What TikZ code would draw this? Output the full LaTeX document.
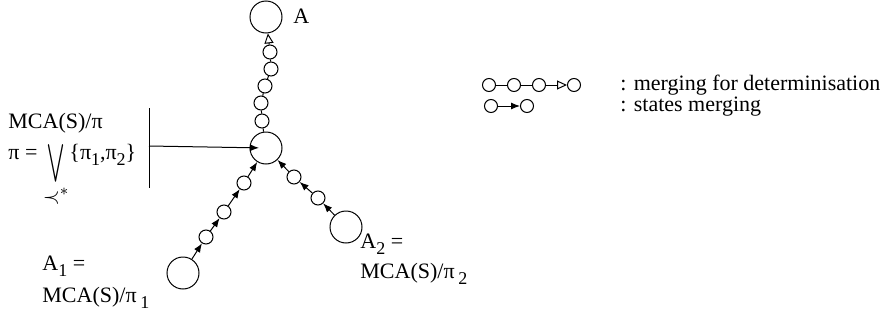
\documentclass[tikz,border=0pt]{standalone}
\usepackage{fontspec}
\usepackage{graphicx}
\setmainfont{Liberation Serif}
\usetikzlibrary{arrows.meta,positioning}
\newcommand\lsub[1]{\raisebox{-.6ex}{\small #1}}
\newcommand\joinop{\mathop{\raisebox{-6pt}{\resizebox{8.5pt}{14.5pt}{$\displaystyle\bigvee$}}}\limits_{\textstyle\prec^{*}}}
\tikzset{
  bigst/.style={circle,draw,line width=.5pt,minimum size=16pt,inner sep=0pt},
  smallst/.style={bigst,minimum size=7pt},
  legst/.style={bigst,minimum size=6.5pt},
  link/.style={line width=.5pt},
  merge/.style={link,-{Latex[length=4.5pt,width=3.5pt]}},
  detmerge/.style={link,-{Triangle[open,length=5pt,width=4.5pt]}},
  lab/.style={anchor=base west,inner sep=0pt,font=\fontsize{11}{13}\selectfont}
}
\begin{document}
\begin{tikzpicture}[x=.5pt,y=-.5pt]
  \useasboundingbox (0,0) rectangle (890,322);
  % automata
  \node[bigst] (a) at (266,17) {};
  \node[bigst] (c) at (266,148) {};
  \node[bigst] (a1) at (183,273) {};
  \node[bigst] (a2) at (346,227) {};
  % chain for determinisation
  \foreach \n/\x/\y in {1/270/52,2/271/69,3/265/86,4/261/103,5/262/121}
    \node[smallst] (t\n) at (\x,\y) {};
  \draw[link] (c) -- (t5) -- (t4) -- (t3) -- (t2) -- (t1);
  \draw[detmerge] (t1) -- (a);
  % state merging chains
  \foreach \n/\x/\y in {1/206/237,2/224/212,3/244/183}
    \node[smallst] (l\n) at (\x,\y) {};
  \foreach \n/\x/\y in {1/318/198,2/294/177}
    \node[smallst] (r\n) at (\x,\y) {};
  \draw[merge] (a1) -- (l1);
  \draw[merge] (l1) -- (l2);
  \draw[merge] (l2) -- (l3);
  \draw[merge] (l3) -- (c);
  \draw[merge] (a2) -- (r1);
  \draw[merge] (r1) -- (r2);
  \draw[merge] (r2) -- (c);
  % bracket
  \coordinate (bt) at (149,108);
  \coordinate (bb) at (149,188);
  \coordinate (bm) at (149,146);
  \draw[link] (bt) -- (bb);
  \draw[merge,shorten >=3.5pt] (bm) -- (c.center);
  % labels
  \node[lab] (ta) at (293,23) {A};
  \node[lab] (pi) at (8,128) {MCA(S)/π};
  \node[lab] (join) at (8,159) {π = $\joinop$\{π\lsub{1},π\lsub{2}\}};
  \node[lab] (a1l) at (42,270) {A\lsub{1} =};
  \node[lab] (a1m) at (42,302) {MCA(S)/π\,\lsub{1}};
  \node[lab] (a2l) at (360,248) {A\lsub{2} =};
  \node[lab] (a2m) at (360,278) {MCA(S)/π\,\lsub{2}};
  % legend
  \foreach \n/\x in {1/489,2/514,3/539,4/574}
    \node[legst] (d\n) at (\x,85) {};
  \draw[link] (d1) -- (d2) -- (d3);
  \draw[detmerge] (d3) -- (d4);
  \node[legst] (m1) at (491,106) {};
  \node[legst] (m2) at (527,106) {};
  \draw[merge] (m1) -- (m2);
  \node[lab] (dtext) at (620,90) {: merging for determinisation};
  \node[lab] (mtext) at (620,111) {: states merging};
\end{tikzpicture}
\end{document}
